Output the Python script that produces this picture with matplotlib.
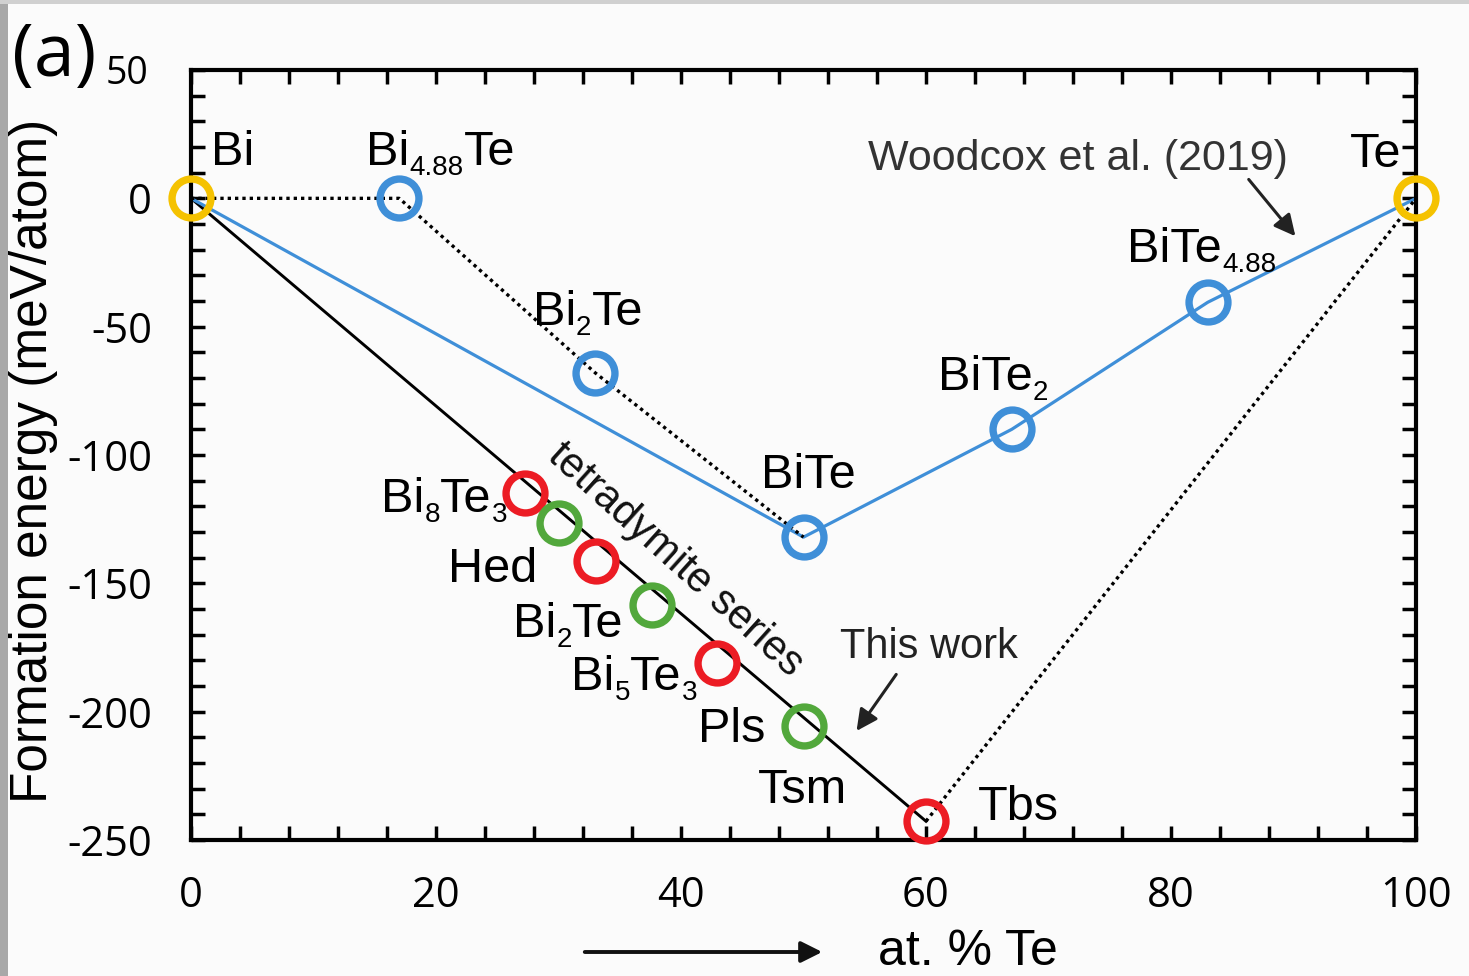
import re
import matplotlib
matplotlib.use("Agg")
import matplotlib.pyplot as plt
from matplotlib.patches import Rectangle, FancyArrowPatch
from matplotlib.ticker import MultipleLocator

plt.rcParams['axes.unicode_minus'] = False

# ---- data ----
# Woodcox et al. (2019) compounds (blue)
blue_names = ["Bi_{4.88}Te", "Bi_{2}Te", "BiTe", "BiTe_{2}", "BiTe_{4.88}"]
blue_x = [17.0, 33.0, 50.0, 67.0, 83.0]
blue_y = [0.0, -68.0, -132.0, -90.0, -40.5]

# elements (yellow)
elem_names = ["Bi", "Te"]
elem_x = [0.0, 100.0]
elem_y = [0.0, 0.0]

# this work: red compounds
red_names = ["Bi_{8}Te_{3}", "Hed", "Bi_{5}Te_{3}", "Tbs"]
red_x = [27.3, 33.1, 42.9, 60.0]
red_y = [-115.0, -141.4, -181.0, -242.7]

# this work: green compounds
green_names = ["Bi_{2}Te", "Pls", "Tsm"]
green_x = [30.0, 37.6, 50.0]
green_y = [-126.6, -158.5, -205.7]

# hulls
blue_hull_x = [0.0, 50.0, 67.0, 83.0, 100.0]
blue_hull_y = [0.0, -132.0, -90.0, -40.5, 0.0]
dotted1_x = [0.0, 17.0, 33.0, 50.0]
dotted1_y = [0.0, 0.0, -68.0, -132.0]
dotted2_x = [60.0, 100.0]
dotted2_y = [-242.7, 0.0]
black_x = [0.0, 60.0]
black_y = [0.0, -242.7]

xticks = [0, 20, 40, 60, 80, 100]
yticks = [-250, -200, -150, -100, -50, 0, 50]

# ---- styles ----
BLUE = '#3f8fd8'
YELLOW = '#f5c200'
RED = '#ec1c24'
GREEN = '#52a83c'
LABEL_FONT = 'Liberation Sans'
AX_FONT = 'Open Sans'
DPI = 100

fig = plt.figure(figsize=(14.69, 9.76), dpi=DPI)
fig.patch.set_facecolor('#fbfbfb')
fig.patches.append(Rectangle((0, 0), 8/1469, 1, transform=fig.transFigure,
                             facecolor='#a8a8a8', edgecolor='none', zorder=0))
fig.patches.append(Rectangle((0, 1-4/976), 1, 4/976, transform=fig.transFigure,
                             facecolor='#d0d0d0', edgecolor='none', zorder=0))

ax = fig.add_axes([191/1469, 1-840/976, (1416-191)/1469, (840-70)/976])
ax.set_facecolor('none')
ax.set_xlim(0, 100)
ax.set_ylim(-250, 50)

# lines
ax.plot(black_x, black_y, color='black', lw=2.1, zorder=2)
ax.plot(blue_hull_x, blue_hull_y, color=BLUE, lw=2.3, zorder=2)
ax.plot(dotted1_x, dotted1_y, color='black', lw=2.4, ls=(0, (1, 1.2)), zorder=2)
ax.plot(dotted2_x, dotted2_y, color='black', lw=2.4, ls=(0, (1, 1.2)), zorder=2)

mk = dict(marker='o', ls='none', ms=28, mew=5.3, mfc='none', zorder=3, clip_on=False)
ax.plot(blue_x, blue_y, mec=BLUE, **mk)
ax.plot(elem_x, elem_y, mec=YELLOW, **mk)
ax.plot(red_x, red_y, mec=RED, **mk)
ax.plot(green_x, green_y, mec=GREEN, **mk)

renderer = fig.canvas.get_renderer()
MAIN_FS = 35
SUB_FS = 20
SUB_DROP = 10  # px


def chem(x, y, name, ha='center'):
    parts = []
    for m in re.finditer(r'_\{([^}]*)\}|([^_]+)', name):
        if m.group(1) is not None:
            parts.append((m.group(1), True))
        else:
            parts.append((m.group(2), False))
    widths = []
    for s, sub in parts:
        t = ax.text(0, 0, s, fontsize=SUB_FS if sub else MAIN_FS, family=LABEL_FONT)
        widths.append(t.get_window_extent(renderer).width)
        t.remove()
    total = sum(widths)
    off = {'left': 0.0, 'center': -total / 2, 'right': -total}[ha]
    for (s, sub), w in zip(parts, widths):
        ax.annotate(s, xy=(x, y), xycoords='data',
                    xytext=(off * 72 / DPI, (-SUB_DROP if sub else 0) * 72 / DPI),
                    textcoords='offset points', ha='left', va='baseline',
                    fontsize=SUB_FS if sub else MAIN_FS, family=LABEL_FONT,
                    color='black', annotation_clip=False)
        off += w


# element labels
chem(1.6, 12.9, elem_names[0], 'left')
chem(96.7, 12.3, elem_names[1], 'center')
# blue labels
blue_lx = [20.4, 32.4, 50.4, 65.5, 82.5]
blue_ly = [12.9, -49.5, -113.0, -74.8, -24.9]
for n, lx, ly in zip(blue_names, blue_lx, blue_ly):
    chem(lx, ly, n, 'center')
# red labels
red_lx = [25.8, 28.3, 41.3, 64.2]
red_ly = [-122.3, -149.6, -191.7, -242.3]
red_ha = ['right', 'right', 'right', 'left']
for n, lx, ly, h in zip(red_names, red_lx, red_ly, red_ha):
    chem(lx, ly, n, h)
# green labels
green_lx = [35.3, 46.9, 53.6]
green_ly = [-171.0, -211.9, -235.7]
for n, lx, ly in zip(green_names, green_lx, green_ly):
    chem(lx, ly, n, 'right')

# annotations
ax.text((675-191)/12.25, (198-560)/2.567, "tetradymite series", rotation=-42,
        rotation_mode='anchor', ha='center', va='center', fontsize=30,
        family=LABEL_FONT, color='#111111')
ax.annotate("", xy=(90.3, -15.6), xytext=(86.2, 8.2),
            arrowprops=dict(arrowstyle='-|>', color='#222222', lw=2.2, mutation_scale=32))
ax.text(89.55, 10.9, "Woodcox et al. (2019)", ha='right', va='baseline', fontsize=31,
        family=LABEL_FONT, color='#333333')
ax.annotate("", xy=(54.2, -208.4), xytext=(57.7, -184.6),
            arrowprops=dict(arrowstyle='-|>', color='#222222', lw=2.2, mutation_scale=32))
ax.text((929-191)/12.25, -179.2, "This work", ha='center', va='baseline',
        fontsize=30, family=LABEL_FONT, color='#222222')

# axes styling
for s in ax.spines.values():
    s.set_linewidth(3)
ax.set_xticks(xticks)
ax.set_yticks(yticks)
ax.xaxis.set_minor_locator(MultipleLocator(4))
ax.yaxis.set_minor_locator(MultipleLocator(10))
ax.tick_params(which='both', direction='in', top=True, right=True, width=2.5, length=10)
ax.tick_params(which='major', labelsize=30)
ax.tick_params(axis='x', which='major', pad=25)
ax.tick_params(axis='y', which='major', pad=28)
for lab in ax.get_xticklabels() + ax.get_yticklabels():
    lab.set_family(AX_FONT)
ax.set_yticklabels([str(v) if v != 50 else "" for v in yticks])

fig.text(12/1469, 1-76/976, "(a)", fontsize=53, family=AX_FONT, ha='left', va='baseline')
fig.text(106/1469, 1-84/976, "50", fontsize=27, family=AX_FONT, ha='left', va='baseline')

fig.text(34/1469, 1-461/976, "Formation energy (meV/atom)", rotation=90, fontsize=37,
         family=LABEL_FONT, ha='center', va='center')
fig.text(878/1469, 1-965/976, "at. % Te", fontsize=36, family=LABEL_FONT, ha='left', va='baseline')
fig.patches.append(FancyArrowPatch((582/1469, 1-952/976), (825/1469, 1-952/976),
                   transform=fig.transFigure, arrowstyle='-|>', mutation_scale=32,
                   color='#111111', lw=2.8))

fig.savefig("out.png", dpi=DPI, facecolor=fig.get_facecolor())
